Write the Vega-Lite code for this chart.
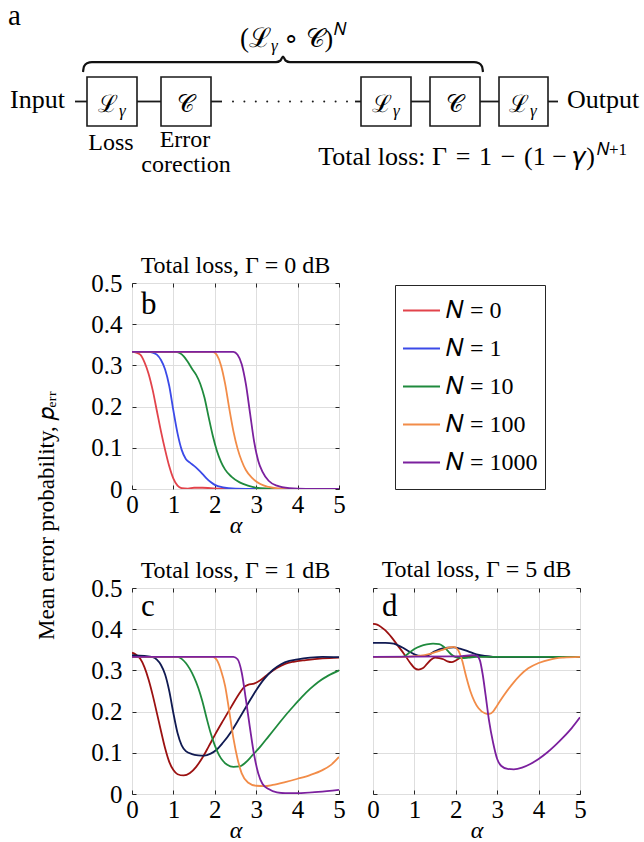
{
"$schema": "https://vega.github.io/schema/vega-lite/v6.json",
"padding": {"left": 8, "top": 0, "right": 5, "bottom": 5},
"config": {
 "font": "Liberation Serif",
 "view": {"stroke": "#262626", "strokeWidth": 1},
 "axis": {"domain": false, "ticks": true, "tickSize": -4, "tickColor": "#262626", "grid": true, "gridColor": "#dedede", "labelFont": "Liberation Serif", "labelFontSize": 25, "labelColor": "black", "titleFont": "Liberation Serif", "titleFontSize": 24, "titleFontWeight": "normal", "titleColor": "black", "labelOverlap": false, "labelFlush": false},
 "axisX": {"labelPadding": 7, "titlePadding": -4, "titleFontStyle": "italic"},
 "axisY": {"labelPadding": 14},
 "title": {"font": "Liberation Serif", "fontSize": 24, "fontWeight": "normal", "color": "black", "offset": -7},
 "text": {"font": "Liberation Serif", "color": "black"}
},
"datasets": {
 "curves": [
{"p":"b","N":"0","a":0,"v":0.333},{"p":"b","N":"0","a":0.1,"v":0.331},{"p":"b","N":"0","a":0.2,"v":0.326},{"p":"b","N":"0","a":0.3,"v":0.308},{"p":"b","N":"0","a":0.4,"v":0.28},{"p":"b","N":"0","a":0.5,"v":0.24},{"p":"b","N":"0","a":0.6,"v":0.19},{"p":"b","N":"0","a":0.7,"v":0.14},{"p":"b","N":"0","a":0.8,"v":0.095},{"p":"b","N":"0","a":0.9,"v":0.055},{"p":"b","N":"0","a":1.0,"v":0.025},{"p":"b","N":"0","a":1.1,"v":0.008},{"p":"b","N":"0","a":1.2,"v":0.002},{"p":"b","N":"0","a":1.35,"v":0.001},{"p":"b","N":"0","a":1.5,"v":0.003},{"p":"b","N":"0","a":1.7,"v":0.003},{"p":"b","N":"0","a":1.9,"v":0.002},{"p":"b","N":"0","a":2.1,"v":0.001},{"p":"b","N":"0","a":2.5,"v":0},{"p":"b","N":"0","a":5,"v":0},
{"p":"b","N":"1","a":0,"v":0.333},{"p":"b","N":"1","a":0.4,"v":0.333},{"p":"b","N":"1","a":0.5,"v":0.331},{"p":"b","N":"1","a":0.6,"v":0.326},{"p":"b","N":"1","a":0.7,"v":0.313},{"p":"b","N":"1","a":0.8,"v":0.29},{"p":"b","N":"1","a":0.9,"v":0.25},{"p":"b","N":"1","a":1.0,"v":0.19},{"p":"b","N":"1","a":1.1,"v":0.135},{"p":"b","N":"1","a":1.2,"v":0.095},{"p":"b","N":"1","a":1.3,"v":0.073},{"p":"b","N":"1","a":1.4,"v":0.064},{"p":"b","N":"1","a":1.5,"v":0.056},{"p":"b","N":"1","a":1.6,"v":0.047},{"p":"b","N":"1","a":1.7,"v":0.037},{"p":"b","N":"1","a":1.8,"v":0.026},{"p":"b","N":"1","a":1.9,"v":0.017},{"p":"b","N":"1","a":2.0,"v":0.01},{"p":"b","N":"1","a":2.2,"v":0.004},{"p":"b","N":"1","a":2.5,"v":0.001},{"p":"b","N":"1","a":3,"v":0},{"p":"b","N":"1","a":5,"v":0},
{"p":"b","N":"10","a":0,"v":0.333},{"p":"b","N":"10","a":1.05,"v":0.333},{"p":"b","N":"10","a":1.15,"v":0.33},{"p":"b","N":"10","a":1.25,"v":0.322},{"p":"b","N":"10","a":1.35,"v":0.308},{"p":"b","N":"10","a":1.45,"v":0.292},{"p":"b","N":"10","a":1.55,"v":0.277},{"p":"b","N":"10","a":1.65,"v":0.255},{"p":"b","N":"10","a":1.75,"v":0.222},{"p":"b","N":"10","a":1.85,"v":0.175},{"p":"b","N":"10","a":1.95,"v":0.13},{"p":"b","N":"10","a":2.05,"v":0.093},{"p":"b","N":"10","a":2.15,"v":0.066},{"p":"b","N":"10","a":2.25,"v":0.047},{"p":"b","N":"10","a":2.4,"v":0.03},{"p":"b","N":"10","a":2.6,"v":0.016},{"p":"b","N":"10","a":2.8,"v":0.008},{"p":"b","N":"10","a":3.0,"v":0.003},{"p":"b","N":"10","a":3.3,"v":0.001},{"p":"b","N":"10","a":3.6,"v":0},{"p":"b","N":"10","a":5,"v":0},
{"p":"b","N":"100","a":0,"v":0.333},{"p":"b","N":"100","a":1.95,"v":0.333},{"p":"b","N":"100","a":2.05,"v":0.325},{"p":"b","N":"100","a":2.15,"v":0.3},{"p":"b","N":"100","a":2.25,"v":0.255},{"p":"b","N":"100","a":2.35,"v":0.195},{"p":"b","N":"100","a":2.45,"v":0.14},{"p":"b","N":"100","a":2.55,"v":0.098},{"p":"b","N":"100","a":2.65,"v":0.068},{"p":"b","N":"100","a":2.75,"v":0.046},{"p":"b","N":"100","a":2.9,"v":0.027},{"p":"b","N":"100","a":3.1,"v":0.012},{"p":"b","N":"100","a":3.3,"v":0.005},{"p":"b","N":"100","a":3.6,"v":0.001},{"p":"b","N":"100","a":4,"v":0},{"p":"b","N":"100","a":5,"v":0},
{"p":"b","N":"1000","a":0,"v":0.333},{"p":"b","N":"1000","a":2.45,"v":0.333},{"p":"b","N":"1000","a":2.55,"v":0.326},{"p":"b","N":"1000","a":2.65,"v":0.303},{"p":"b","N":"1000","a":2.75,"v":0.255},{"p":"b","N":"1000","a":2.85,"v":0.185},{"p":"b","N":"1000","a":2.95,"v":0.115},{"p":"b","N":"1000","a":3.05,"v":0.068},{"p":"b","N":"1000","a":3.15,"v":0.042},{"p":"b","N":"1000","a":3.3,"v":0.02},{"p":"b","N":"1000","a":3.5,"v":0.008},{"p":"b","N":"1000","a":3.8,"v":0.002},{"p":"b","N":"1000","a":4.2,"v":0},{"p":"b","N":"1000","a":5,"v":0},
{"p":"c","N":"0","a":0,"v":0.343},{"p":"c","N":"0","a":0.1,"v":0.338},{"p":"c","N":"0","a":0.2,"v":0.328},{"p":"c","N":"0","a":0.3,"v":0.308},{"p":"c","N":"0","a":0.4,"v":0.278},{"p":"c","N":"0","a":0.5,"v":0.24},{"p":"c","N":"0","a":0.6,"v":0.197},{"p":"c","N":"0","a":0.7,"v":0.153},{"p":"c","N":"0","a":0.8,"v":0.111},{"p":"c","N":"0","a":0.9,"v":0.078},{"p":"c","N":"0","a":1.0,"v":0.058},{"p":"c","N":"0","a":1.1,"v":0.048},{"p":"c","N":"0","a":1.25,"v":0.045},{"p":"c","N":"0","a":1.4,"v":0.051},{"p":"c","N":"0","a":1.55,"v":0.066},{"p":"c","N":"0","a":1.7,"v":0.088},{"p":"c","N":"0","a":1.85,"v":0.115},{"p":"c","N":"0","a":2.0,"v":0.143},{"p":"c","N":"0","a":2.2,"v":0.178},{"p":"c","N":"0","a":2.4,"v":0.212},{"p":"c","N":"0","a":2.6,"v":0.245},{"p":"c","N":"0","a":2.7,"v":0.259},{"p":"c","N":"0","a":2.8,"v":0.265},{"p":"c","N":"0","a":2.95,"v":0.268},{"p":"c","N":"0","a":3.1,"v":0.276},{"p":"c","N":"0","a":3.3,"v":0.292},{"p":"c","N":"0","a":3.5,"v":0.306},{"p":"c","N":"0","a":3.7,"v":0.316},{"p":"c","N":"0","a":3.9,"v":0.321},{"p":"c","N":"0","a":4.2,"v":0.325},{"p":"c","N":"0","a":4.6,"v":0.329},{"p":"c","N":"0","a":5,"v":0.331},
{"p":"c","N":"1","a":0,"v":0.337},{"p":"c","N":"1","a":0.3,"v":0.335},{"p":"c","N":"1","a":0.5,"v":0.332},{"p":"c","N":"1","a":0.6,"v":0.326},{"p":"c","N":"1","a":0.7,"v":0.313},{"p":"c","N":"1","a":0.8,"v":0.29},{"p":"c","N":"1","a":0.9,"v":0.25},{"p":"c","N":"1","a":1.0,"v":0.196},{"p":"c","N":"1","a":1.1,"v":0.148},{"p":"c","N":"1","a":1.2,"v":0.118},{"p":"c","N":"1","a":1.3,"v":0.104},{"p":"c","N":"1","a":1.45,"v":0.097},{"p":"c","N":"1","a":1.6,"v":0.094},{"p":"c","N":"1","a":1.75,"v":0.093},{"p":"c","N":"1","a":1.9,"v":0.098},{"p":"c","N":"1","a":2.05,"v":0.108},{"p":"c","N":"1","a":2.2,"v":0.125},{"p":"c","N":"1","a":2.4,"v":0.152},{"p":"c","N":"1","a":2.6,"v":0.185},{"p":"c","N":"1","a":2.8,"v":0.219},{"p":"c","N":"1","a":3.0,"v":0.252},{"p":"c","N":"1","a":3.2,"v":0.28},{"p":"c","N":"1","a":3.4,"v":0.301},{"p":"c","N":"1","a":3.6,"v":0.315},{"p":"c","N":"1","a":3.8,"v":0.323},{"p":"c","N":"1","a":4.0,"v":0.327},{"p":"c","N":"1","a":4.3,"v":0.331},{"p":"c","N":"1","a":4.6,"v":0.333},{"p":"c","N":"1","a":5,"v":0.332},
{"p":"c","N":"10","a":0,"v":0.333},{"p":"c","N":"10","a":1.1,"v":0.333},{"p":"c","N":"10","a":1.2,"v":0.328},{"p":"c","N":"10","a":1.3,"v":0.318},{"p":"c","N":"10","a":1.4,"v":0.303},{"p":"c","N":"10","a":1.5,"v":0.283},{"p":"c","N":"10","a":1.6,"v":0.258},{"p":"c","N":"10","a":1.7,"v":0.225},{"p":"c","N":"10","a":1.8,"v":0.185},{"p":"c","N":"10","a":1.9,"v":0.148},{"p":"c","N":"10","a":2.0,"v":0.118},{"p":"c","N":"10","a":2.1,"v":0.095},{"p":"c","N":"10","a":2.2,"v":0.08},{"p":"c","N":"10","a":2.3,"v":0.071},{"p":"c","N":"10","a":2.45,"v":0.066},{"p":"c","N":"10","a":2.6,"v":0.067},{"p":"c","N":"10","a":2.75,"v":0.077},{"p":"c","N":"10","a":2.9,"v":0.093},{"p":"c","N":"10","a":3.1,"v":0.115},{"p":"c","N":"10","a":3.3,"v":0.14},{"p":"c","N":"10","a":3.5,"v":0.165},{"p":"c","N":"10","a":3.7,"v":0.19},{"p":"c","N":"10","a":3.9,"v":0.213},{"p":"c","N":"10","a":4.1,"v":0.235},{"p":"c","N":"10","a":4.3,"v":0.255},{"p":"c","N":"10","a":4.5,"v":0.272},{"p":"c","N":"10","a":4.75,"v":0.288},{"p":"c","N":"10","a":5,"v":0.3},
{"p":"c","N":"100","a":0,"v":0.333},{"p":"c","N":"100","a":1.95,"v":0.333},{"p":"c","N":"100","a":2.05,"v":0.325},{"p":"c","N":"100","a":2.15,"v":0.3},{"p":"c","N":"100","a":2.25,"v":0.262},{"p":"c","N":"100","a":2.35,"v":0.2},{"p":"c","N":"100","a":2.45,"v":0.135},{"p":"c","N":"100","a":2.55,"v":0.085},{"p":"c","N":"100","a":2.65,"v":0.05},{"p":"c","N":"100","a":2.8,"v":0.028},{"p":"c","N":"100","a":3.0,"v":0.02},{"p":"c","N":"100","a":3.2,"v":0.019},{"p":"c","N":"100","a":3.4,"v":0.022},{"p":"c","N":"100","a":3.7,"v":0.029},{"p":"c","N":"100","a":4.0,"v":0.037},{"p":"c","N":"100","a":4.3,"v":0.046},{"p":"c","N":"100","a":4.6,"v":0.058},{"p":"c","N":"100","a":4.8,"v":0.07},{"p":"c","N":"100","a":5,"v":0.09},
{"p":"c","N":"1000","a":0,"v":0.333},{"p":"c","N":"1000","a":2.45,"v":0.333},{"p":"c","N":"1000","a":2.55,"v":0.327},{"p":"c","N":"1000","a":2.65,"v":0.295},{"p":"c","N":"1000","a":2.75,"v":0.23},{"p":"c","N":"1000","a":2.85,"v":0.16},{"p":"c","N":"1000","a":2.95,"v":0.095},{"p":"c","N":"1000","a":3.05,"v":0.05},{"p":"c","N":"1000","a":3.15,"v":0.025},{"p":"c","N":"1000","a":3.3,"v":0.012},{"p":"c","N":"1000","a":3.5,"v":0.004},{"p":"c","N":"1000","a":3.7,"v":0.002},{"p":"c","N":"1000","a":4.0,"v":0.002},{"p":"c","N":"1000","a":4.5,"v":0.005},{"p":"c","N":"1000","a":5,"v":0.01},
{"p":"d","N":"0","a":0,"v":0.413},{"p":"d","N":"0","a":0.1,"v":0.411},{"p":"d","N":"0","a":0.2,"v":0.405},{"p":"d","N":"0","a":0.3,"v":0.397},{"p":"d","N":"0","a":0.45,"v":0.38},{"p":"d","N":"0","a":0.6,"v":0.36},{"p":"d","N":"0","a":0.75,"v":0.34},{"p":"d","N":"0","a":0.9,"v":0.318},{"p":"d","N":"0","a":1.0,"v":0.306},{"p":"d","N":"0","a":1.1,"v":0.302},{"p":"d","N":"0","a":1.2,"v":0.305},{"p":"d","N":"0","a":1.3,"v":0.315},{"p":"d","N":"0","a":1.4,"v":0.326},{"p":"d","N":"0","a":1.5,"v":0.331},{"p":"d","N":"0","a":1.6,"v":0.33},{"p":"d","N":"0","a":1.7,"v":0.327},{"p":"d","N":"0","a":1.8,"v":0.322},{"p":"d","N":"0","a":1.9,"v":0.32},{"p":"d","N":"0","a":2.0,"v":0.324},{"p":"d","N":"0","a":2.1,"v":0.33},{"p":"d","N":"0","a":2.2,"v":0.333},{"p":"d","N":"0","a":2.5,"v":0.334},{"p":"d","N":"0","a":3,"v":0.333},{"p":"d","N":"0","a":5,"v":0.333},
{"p":"d","N":"1","a":0,"v":0.367},{"p":"d","N":"1","a":0.3,"v":0.367},{"p":"d","N":"1","a":0.5,"v":0.365},{"p":"d","N":"1","a":0.7,"v":0.356},{"p":"d","N":"1","a":0.85,"v":0.347},{"p":"d","N":"1","a":1.0,"v":0.339},{"p":"d","N":"1","a":1.15,"v":0.335},{"p":"d","N":"1","a":1.3,"v":0.336},{"p":"d","N":"1","a":1.45,"v":0.344},{"p":"d","N":"1","a":1.6,"v":0.351},{"p":"d","N":"1","a":1.8,"v":0.355},{"p":"d","N":"1","a":1.95,"v":0.356},{"p":"d","N":"1","a":2.1,"v":0.353},{"p":"d","N":"1","a":2.3,"v":0.346},{"p":"d","N":"1","a":2.5,"v":0.339},{"p":"d","N":"1","a":2.7,"v":0.335},{"p":"d","N":"1","a":2.9,"v":0.333},{"p":"d","N":"1","a":5,"v":0.333},
{"p":"d","N":"10","a":0,"v":0.333},{"p":"d","N":"10","a":0.7,"v":0.333},{"p":"d","N":"10","a":0.8,"v":0.337},{"p":"d","N":"10","a":0.9,"v":0.345},{"p":"d","N":"10","a":1.0,"v":0.352},{"p":"d","N":"10","a":1.15,"v":0.359},{"p":"d","N":"10","a":1.3,"v":0.363},{"p":"d","N":"10","a":1.45,"v":0.365},{"p":"d","N":"10","a":1.6,"v":0.364},{"p":"d","N":"10","a":1.7,"v":0.358},{"p":"d","N":"10","a":1.8,"v":0.348},{"p":"d","N":"10","a":1.9,"v":0.338},{"p":"d","N":"10","a":2.0,"v":0.332},{"p":"d","N":"10","a":2.15,"v":0.33},{"p":"d","N":"10","a":2.3,"v":0.331},{"p":"d","N":"10","a":2.5,"v":0.333},{"p":"d","N":"10","a":5,"v":0.333},
{"p":"d","N":"100","a":0,"v":0.333},{"p":"d","N":"100","a":0.8,"v":0.333},{"p":"d","N":"100","a":1.1,"v":0.335},{"p":"d","N":"100","a":1.4,"v":0.341},{"p":"d","N":"100","a":1.65,"v":0.349},{"p":"d","N":"100","a":1.85,"v":0.356},{"p":"d","N":"100","a":1.95,"v":0.357},{"p":"d","N":"100","a":2.05,"v":0.35},{"p":"d","N":"100","a":2.15,"v":0.325},{"p":"d","N":"100","a":2.25,"v":0.285},{"p":"d","N":"100","a":2.35,"v":0.25},{"p":"d","N":"100","a":2.45,"v":0.225},{"p":"d","N":"100","a":2.55,"v":0.208},{"p":"d","N":"100","a":2.7,"v":0.196},{"p":"d","N":"100","a":2.8,"v":0.194},{"p":"d","N":"100","a":2.9,"v":0.2},{"p":"d","N":"100","a":3.0,"v":0.215},{"p":"d","N":"100","a":3.15,"v":0.238},{"p":"d","N":"100","a":3.35,"v":0.265},{"p":"d","N":"100","a":3.55,"v":0.288},{"p":"d","N":"100","a":3.75,"v":0.305},{"p":"d","N":"100","a":4.0,"v":0.318},{"p":"d","N":"100","a":4.3,"v":0.327},{"p":"d","N":"100","a":4.6,"v":0.331},{"p":"d","N":"100","a":5,"v":0.333},
{"p":"d","N":"1000","a":0,"v":0.333},{"p":"d","N":"1000","a":2.0,"v":0.334},{"p":"d","N":"1000","a":2.4,"v":0.337},{"p":"d","N":"1000","a":2.5,"v":0.336},{"p":"d","N":"1000","a":2.58,"v":0.325},{"p":"d","N":"1000","a":2.65,"v":0.29},{"p":"d","N":"1000","a":2.72,"v":0.24},{"p":"d","N":"1000","a":2.8,"v":0.18},{"p":"d","N":"1000","a":2.9,"v":0.125},{"p":"d","N":"1000","a":3.0,"v":0.085},{"p":"d","N":"1000","a":3.1,"v":0.068},{"p":"d","N":"1000","a":3.25,"v":0.061},{"p":"d","N":"1000","a":3.4,"v":0.06},{"p":"d","N":"1000","a":3.6,"v":0.064},{"p":"d","N":"1000","a":3.8,"v":0.073},{"p":"d","N":"1000","a":4.0,"v":0.085},{"p":"d","N":"1000","a":4.2,"v":0.1},{"p":"d","N":"1000","a":4.4,"v":0.118},{"p":"d","N":"1000","a":4.6,"v":0.138},{"p":"d","N":"1000","a":4.8,"v":0.16},{"p":"d","N":"1000","a":5,"v":0.186}
 ],
 "labels": [
  {"k":"left","x":10,"y":108,"t":"Input"},
  {"k":"left","x":567,"y":108,"t":"Output"},
  {"k":"center","x":111,"y":150,"t":"Loss"},
  {"k":"center","x":185,"y":147,"t":"Error"},
  {"k":"center","x":186,"y":172,"t":"corection"},
  {"k":"panel","x":8,"y":25,"t":"a"},
  {"k":"L","x":112,"y":112,"t":"ℒ"},
  {"k":"L","x":386,"y":112,"t":"ℒ"},
  {"k":"L","x":523,"y":112,"t":"ℒ"},
  {"k":"C","x":186,"y":112,"t":"𝒞"},
  {"k":"C","x":455,"y":112,"t":"𝒞"},
  {"k":"fright","x":271,"y":47,"t":"(ℒ"},
  {"k":"gsub","x":271,"y":51,"t":"γ"},
  {"k":"fmain","x":283,"y":47,"t":"∘ 𝒞)"},
  {"k":"fsmall","x":334,"y":35,"t":"𝑁"},
  {"k":"tmain","x":595,"y":165,"t":"Total loss: Γ\u2004=\u20041\u2004−\u2004(1 − 𝛾)"},
  {"k":"fsmall","x":597,"y":155,"t":"𝑁+1"}
 ]
},
"spacing": 73,
"vconcat": [
 {
  "width": 632, "height": 180,
  "view": {"stroke": null},
  "layer": [
   {"data": {"values": [{"x1":87,"x2":137,"y1":77,"y2":126},{"x1":161,"x2":211,"y1":77,"y2":126},{"x1":361,"x2":411,"y1":77,"y2":126},{"x1":430,"x2":480,"y1":77,"y2":126},{"x1":499,"x2":548,"y1":77,"y2":126}]},
    "mark": {"type": "rect", "fill": "white", "stroke": "#1a1a1a", "strokeWidth": 1.6},
    "encoding": {
     "x": {"field": "x1", "type": "quantitative", "scale": {"domain": [8, 640]}, "axis": null},
     "x2": {"field": "x2"},
     "y": {"field": "y1", "type": "quantitative", "scale": {"domain": [0, 180], "reverse": true}, "axis": null},
     "y2": {"field": "y2"}
    }},
   {"data": {"values": [{"x1":75,"x2":87,"y":101.5},{"x1":137,"x2":161,"y":101.5},{"x1":211,"x2":222,"y":101.5},{"x1":355,"x2":361,"y":101.5},{"x1":411,"x2":430,"y":101.5},{"x1":480,"x2":499,"y":101.5},{"x1":548,"x2":558,"y":101.5}]},
    "mark": {"type": "rule", "stroke": "#1a1a1a", "strokeWidth": 1.8},
    "encoding": {
     "x": {"field": "x1", "type": "quantitative", "scale": {"domain": [8, 640]}, "axis": null},
     "x2": {"field": "x2"},
     "y": {"field": "y", "type": "quantitative", "scale": {"domain": [0, 180], "reverse": true}, "axis": null}
    }},
   {"data": {"values": [{"x":233,"y":101.5},{"x":244.4,"y":101.5},{"x":255.8,"y":101.5},{"x":267.2,"y":101.5},{"x":278.6,"y":101.5},{"x":290,"y":101.5},{"x":301.4,"y":101.5},{"x":312.8,"y":101.5},{"x":324.2,"y":101.5},{"x":335.6,"y":101.5},{"x":347,"y":101.5}]},
    "mark": {"type": "circle", "size": 4, "color": "#1a1a1a", "opacity": 1},
    "encoding": {
     "x": {"field": "x", "type": "quantitative", "scale": {"domain": [8, 640]}, "axis": null},
     "y": {"field": "y", "type": "quantitative", "scale": {"domain": [0, 180], "reverse": true}, "axis": null}
    }},
   {"data": {"values": [{"x":83,"y":72},{"x":84,"y":66.5},{"x":87,"y":63.3},{"x":92,"y":62.2},{"x":276,"y":62.2},{"x":280.5,"y":60.5},{"x":283,"y":56.5},{"x":285.5,"y":60.5},{"x":290,"y":62.2},{"x":474,"y":62.2},{"x":479,"y":63.3},{"x":482,"y":66.5},{"x":483,"y":72}]},
    "mark": {"type": "line", "stroke": "#111", "strokeWidth": 2.2, "interpolate": "monotone"},
    "encoding": {
     "x": {"field": "x", "type": "quantitative", "scale": {"domain": [8, 640]}, "axis": null},
     "y": {"field": "y", "type": "quantitative", "scale": {"domain": [0, 180], "reverse": true}, "axis": null}
    }},
   {"data": {"name": "labels"}, "transform": [{"filter": "datum.k == 'left'"}],
    "mark": {"type": "text", "align": "left", "baseline": "alphabetic", "fontSize": 26},
    "encoding": {"x": {"field": "x", "type": "quantitative", "scale": {"domain": [8, 640]}, "axis": null}, "y": {"field": "y", "type": "quantitative", "scale": {"domain": [0, 180], "reverse": true}, "axis": null}, "text": {"field": "t"}}},
   {"data": {"name": "labels"}, "transform": [{"filter": "datum.k == 'center'"}],
    "mark": {"type": "text", "align": "center", "baseline": "alphabetic", "fontSize": 24},
    "encoding": {"x": {"field": "x", "type": "quantitative", "scale": {"domain": [8, 640]}, "axis": null}, "y": {"field": "y", "type": "quantitative", "scale": {"domain": [0, 180], "reverse": true}, "axis": null}, "text": {"field": "t"}}},
   {"data": {"name": "labels"}, "transform": [{"filter": "datum.k == 'panel'"}],
    "mark": {"type": "text", "align": "left", "baseline": "alphabetic", "fontSize": 29},
    "encoding": {"x": {"field": "x", "type": "quantitative", "scale": {"domain": [8, 640]}, "axis": null}, "y": {"field": "y", "type": "quantitative", "scale": {"domain": [0, 180], "reverse": true}, "axis": null}, "text": {"field": "t"}}},
   {"data": {"name": "labels"}, "transform": [{"filter": "datum.k == 'L'"}],
    "mark": {"type": "text", "align": "center", "baseline": "alphabetic", "fontSize": 24, "dx": -4},
    "encoding": {"x": {"field": "x", "type": "quantitative", "scale": {"domain": [8, 640]}, "axis": null}, "y": {"field": "y", "type": "quantitative", "scale": {"domain": [0, 180], "reverse": true}, "axis": null}, "text": {"field": "t"}}},
   {"data": {"name": "labels"}, "transform": [{"filter": "datum.k == 'L'"}],
    "mark": {"type": "text", "text": "γ", "align": "left", "baseline": "alphabetic", "fontSize": 17, "fontStyle": "italic", "dx": 7, "dy": 4},
    "encoding": {"x": {"field": "x", "type": "quantitative", "scale": {"domain": [8, 640]}, "axis": null}, "y": {"field": "y", "type": "quantitative", "scale": {"domain": [0, 180], "reverse": true}, "axis": null}}},
   {"data": {"name": "labels"}, "transform": [{"filter": "datum.k == 'C'"}],
    "mark": {"type": "text", "align": "center", "baseline": "alphabetic", "fontSize": 24},
    "encoding": {"x": {"field": "x", "type": "quantitative", "scale": {"domain": [8, 640]}, "axis": null}, "y": {"field": "y", "type": "quantitative", "scale": {"domain": [0, 180], "reverse": true}, "axis": null}, "text": {"field": "t"}}},
   {"data": {"name": "labels"}, "transform": [{"filter": "datum.k == 'fmain'"}],
    "mark": {"type": "text", "align": "left", "baseline": "alphabetic", "fontSize": 26},
    "encoding": {"x": {"field": "x", "type": "quantitative", "scale": {"domain": [8, 640]}, "axis": null}, "y": {"field": "y", "type": "quantitative", "scale": {"domain": [0, 180], "reverse": true}, "axis": null}, "text": {"field": "t"}}},
   {"data": {"name": "labels"}, "transform": [{"filter": "datum.k == 'fright'"}],
    "mark": {"type": "text", "align": "right", "baseline": "alphabetic", "fontSize": 27},
    "encoding": {"x": {"field": "x", "type": "quantitative", "scale": {"domain": [8, 640]}, "axis": null}, "y": {"field": "y", "type": "quantitative", "scale": {"domain": [0, 180], "reverse": true}, "axis": null}, "text": {"field": "t"}}},
   {"data": {"name": "labels"}, "transform": [{"filter": "datum.k == 'gsub'"}],
    "mark": {"type": "text", "align": "left", "baseline": "alphabetic", "fontSize": 17, "fontStyle": "italic"},
    "encoding": {"x": {"field": "x", "type": "quantitative", "scale": {"domain": [8, 640]}, "axis": null}, "y": {"field": "y", "type": "quantitative", "scale": {"domain": [0, 180], "reverse": true}, "axis": null}, "text": {"field": "t"}}},
   {"data": {"name": "labels"}, "transform": [{"filter": "datum.k == 'fsmall'"}],
    "mark": {"type": "text", "align": "left", "baseline": "alphabetic", "fontSize": 17},
    "encoding": {"x": {"field": "x", "type": "quantitative", "scale": {"domain": [8, 640]}, "axis": null}, "y": {"field": "y", "type": "quantitative", "scale": {"domain": [0, 180], "reverse": true}, "axis": null}, "text": {"field": "t"}}},
   {"data": {"name": "labels"}, "transform": [{"filter": "datum.k == 'tmain'"}],
    "mark": {"type": "text", "align": "right", "baseline": "alphabetic", "fontSize": 26},
    "encoding": {"x": {"field": "x", "type": "quantitative", "scale": {"domain": [8, 640]}, "axis": null}, "y": {"field": "y", "type": "quantitative", "scale": {"domain": [0, 180], "reverse": true}, "axis": null}, "text": {"field": "t"}}}
  ]
 },
 {
  "spacing": 32,
  "hconcat": [
   {
    "width": 50, "height": 464,
    "view": {"stroke": null},
    "data": {"values": []},
    "mark": "point",
    "encoding": {"y": {"field": "v", "type": "quantitative", "scale": {"domain": [0, 1]},
      "axis": {"title": "Mean error probability, 𝑝ₑᵣᵣ", "labels": false, "ticks": false, "domain": false, "grid": false, "titleX": 45, "titleBaseline": "alphabetic", "titleFontSize": 23}}}
   },
   {
    "spacing": 19,
    "resolve": {"scale": {"color": "independent"}},
    "vconcat": [
     {
      "width": 207, "height": 206,
      "title": {"text": "Total loss, Γ = 0 dB"},
      "resolve": {"axis": {"x": "independent", "y": "independent"}},
      "layer": [
       {"data": {"name": "curves"}, "transform": [{"filter": "datum.p == 'b'"}],
        "mark": {"type": "line", "strokeWidth": 1.8, "interpolate": "monotone", "clip": true},
        "encoding": {
         "x": {"field": "a", "type": "quantitative", "scale": {"domain": [0, 5], "nice": false}, "axis": {"values": [0,1,2,3,4,5], "title": "α"}},
         "y": {"field": "v", "type": "quantitative", "scale": {"domain": [0, 0.5], "nice": false}, "axis": {"values": [0,0.1,0.2,0.3,0.4,0.5], "title": null, "labelExpr": "datum.value == 0 ? '0' : format(datum.value, '.1f')"}},
         "color": {"field": "N", "type": "nominal", "scale": {"domain": ["0","1","10","100","1000"], "range": ["#e2434b","#3b4ae8","#1f8a3d","#f28c48","#7b209e"]},
          "legend": {"orient": "none", "legendX": 263, "legendY": 2, "title": null, "symbolType": "stroke", "symbolSize": 1369, "symbolStrokeWidth": 2, "labelFontSize": 24, "labelFont": "Liberation Serif", "labelColor": "black", "strokeColor": "#262626", "fillColor": "white", "padding": 7, "rowPadding": 0, "clipHeight": 37.2, "labelOffset": 5, "labelExpr": "'𝑁 = ' + datum.label"}}
        }},
       {"data": {"values": [{}]},
        "mark": {"type": "text", "text": "b", "align": "left", "baseline": "alphabetic", "fontSize": 31, "dx": 9, "dy": 31},
        "encoding": {
         "x": {"datum": 0, "type": "quantitative", "axis": {"orient": "top", "values": [0,1,2,3,4,5], "labels": false, "grid": false, "title": null}},
         "y": {"datum": 0.5, "type": "quantitative", "axis": {"orient": "right", "values": [0,0.1,0.2,0.3,0.4,0.5], "labels": false, "grid": false, "title": null}}}}
      ]
     },
     {
      "spacing": 20,
      "hconcat": [
       {
        "width": 207, "height": 206,
        "title": {"text": "Total loss, Γ = 1 dB"},
        "resolve": {"axis": {"x": "independent", "y": "independent"}},
        "layer": [
         {"data": {"name": "curves"}, "transform": [{"filter": "datum.p == 'c'"}],
          "mark": {"type": "line", "strokeWidth": 1.8, "interpolate": "monotone", "clip": true},
          "encoding": {
           "x": {"field": "a", "type": "quantitative", "scale": {"domain": [0, 5], "nice": false}, "axis": {"values": [0,1,2,3,4,5], "title": "α"}},
           "y": {"field": "v", "type": "quantitative", "scale": {"domain": [0, 0.5], "nice": false}, "axis": {"values": [0,0.1,0.2,0.3,0.4,0.5], "title": null, "labelExpr": "datum.value == 0 ? '0' : format(datum.value, '.1f')"}},
           "color": {"field": "N", "type": "nominal", "scale": {"domain": ["0","1","10","100","1000"], "range": ["#9b1111","#101a52","#1f8a3d","#f28c48","#7b209e"]}, "legend": null}
          }},
         {"data": {"values": [{}]},
          "mark": {"type": "text", "text": "c", "align": "left", "baseline": "alphabetic", "fontSize": 31, "dx": 9, "dy": 28},
          "encoding": {
           "x": {"datum": 0, "type": "quantitative", "axis": {"orient": "top", "values": [0,1,2,3,4,5], "labels": false, "grid": false, "title": null}},
           "y": {"datum": 0.5, "type": "quantitative", "axis": {"orient": "right", "values": [0,0.1,0.2,0.3,0.4,0.5], "labels": false, "grid": false, "title": null}}}}
        ]
       },
       {
        "width": 207, "height": 206,
        "title": {"text": "Total loss, Γ = 5 dB", "offset": 5.5},
        "resolve": {"axis": {"x": "independent", "y": "independent"}},
        "layer": [
         {"data": {"name": "curves"}, "transform": [{"filter": "datum.p == 'd'"}],
          "mark": {"type": "line", "strokeWidth": 1.8, "interpolate": "monotone", "clip": true},
          "encoding": {
           "x": {"field": "a", "type": "quantitative", "scale": {"domain": [0, 5], "nice": false}, "axis": {"values": [0,1,2,3,4,5], "title": "α"}},
           "y": {"field": "v", "type": "quantitative", "scale": {"domain": [0, 0.5], "nice": false}, "axis": {"values": [0,0.1,0.2,0.3,0.4,0.5], "title": null, "labels": false}},
           "color": {"field": "N", "type": "nominal", "scale": {"domain": ["0","1","10","100","1000"], "range": ["#9b1111","#101a52","#1f8a3d","#f28c48","#7b209e"]}, "legend": null}
          }},
         {"data": {"values": [{}]},
          "mark": {"type": "text", "text": "d", "align": "left", "baseline": "alphabetic", "fontSize": 31, "dx": 9, "dy": 28},
          "encoding": {
           "x": {"datum": 0, "type": "quantitative", "axis": {"orient": "top", "values": [0,1,2,3,4,5], "labels": false, "grid": false, "title": null}},
           "y": {"datum": 0.5, "type": "quantitative", "axis": {"orient": "right", "values": [0,0.1,0.2,0.3,0.4,0.5], "labels": false, "grid": false, "title": null}}}}
        ]
       }
      ]
     }
    ]
   }
  ]
 }
]
}
